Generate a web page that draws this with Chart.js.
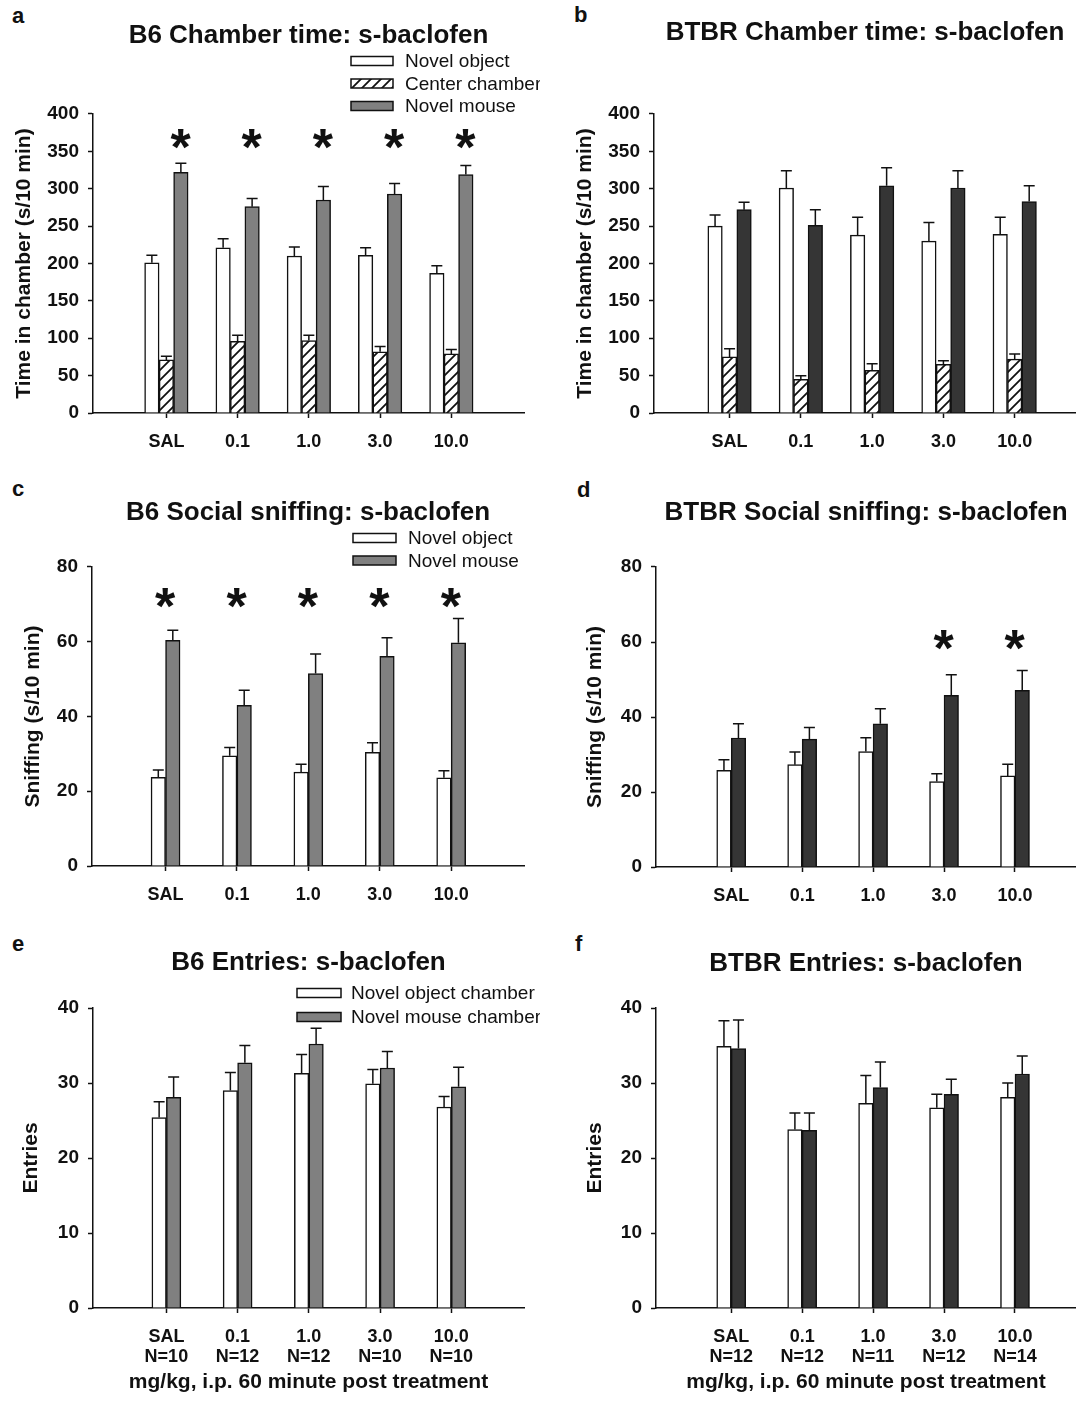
<!DOCTYPE html>
<html>
<head>
<meta charset="utf-8">
<script src="https://cdn.jsdelivr.net/npm/chart.js@4.4.1/dist/chart.umd.min.js"></script>
<style>
  html, body { margin: 0; padding: 0; background: #fff; overflow: hidden; }
  #fig { position: relative; width: 1076px; height: 1402px; }
  .letter { position: absolute; font: bold 22px "Liberation Sans", Arial, sans-serif; line-height: 26px; color: #111; }
</style>
</head>
<body>
<div id="fig">
  <div class="letter" style="left:12px;top:3px">a</div>
  <div class="letter" style="left:574px;top:2px">b</div>
  <div class="letter" style="left:12px;top:476px">c</div>
  <div class="letter" style="left:577px;top:477px">d</div>
  <div class="letter" style="left:12px;top:931px">e</div>
  <div class="letter" style="left:575px;top:931px">f</div>
</div>
<script>
// doses (mg/kg) and group sizes
const doses = ["SAL", "0.1", "1.0", "3.0", "10.0"];
const b6N = ["N=10", "N=12", "N=12", "N=10", "N=10"];
const btbrN = ["N=12", "N=12", "N=11", "N=12", "N=14"];

// a: B6 chamber time
const b6TimeObject = [201, 221, 210, 211, 187];
const b6TimeObjectErr = [10, 12, 12, 10, 10];
const b6TimeCenter = [71, 96, 97, 82, 79];
const b6TimeCenterErr = [5, 8, 7, 7, 6];
const b6TimeMouse = [322, 276, 285, 293, 319];
const b6TimeMouseErr = [12, 11, 18, 14, 12];
const b6TimeSig = [true, true, true, true, true];

// b: BTBR chamber time
const btbrTimeObject = [250, 301, 238, 230, 239];
const btbrTimeObjectErr = [15, 23, 24, 25, 23];
const btbrTimeCenter = [75, 45, 57, 65, 72];
const btbrTimeCenterErr = [11, 5, 9, 5, 7];
const btbrTimeMouse = [272, 251, 304, 301, 283];
const btbrTimeMouseErr = [10, 21, 24, 23, 21];
const btbrTimeSig = [false, false, false, false, false];

// c: B6 social sniffing
const b6SniffObject = [23.7, 29.5, 25.1, 30.4, 23.6];
const b6SniffObjectErr = [2.0, 2.2, 2.1, 2.6, 1.9];
const b6SniffMouse = [60.4, 43.0, 51.5, 56.1, 59.7];
const b6SniffMouseErr = [2.7, 4.0, 5.2, 5.0, 6.5];
const b6SniffSig = [true, true, true, true, true];

// d: BTBR social sniffing
const btbrSniffObject = [25.8, 27.3, 30.8, 22.8, 24.3];
const btbrSniffObjectErr = [2.8, 3.4, 3.7, 2.1, 3.1];
const btbrSniffMouse = [34.4, 34.1, 38.2, 45.8, 47.1];
const btbrSniffMouseErr = [3.8, 3.1, 4.0, 5.5, 5.3];
const btbrSniffSig = [false, false, false, true, true];

// e: B6 entries
const b6EntObject = [25.4, 29.0, 31.3, 29.9, 26.8];
const b6EntObjectErr = [2.1, 2.4, 2.5, 1.9, 1.4];
const b6EntMouse = [28.1, 32.7, 35.2, 32.0, 29.5];
const b6EntMouseErr = [2.7, 2.3, 2.1, 2.2, 2.6];

// f: BTBR entries
const btbrEntObject = [34.9, 23.8, 27.3, 26.7, 28.1];
const btbrEntObjectErr = [3.4, 2.2, 3.7, 1.8, 1.9];
const btbrEntMouse = [34.6, 23.7, 29.4, 28.5, 31.2];
const btbrEntMouseErr = [3.8, 2.3, 3.4, 2.0, 2.4];

const FONT = '"Liberation Sans", Arial, Helvetica, sans-serif';
const INK = "#111";
const WHITE = "#ffffff";
const GRAY = "#808080";
const DARK = "#353535";
const BAR_W = 14.5;
const TITLE_SIZE = 26;
const AXIS_TITLE_SIZE = 21;

// hatch fill for the center chamber bars
function makeHatch() {
  const c = document.createElement("canvas");
  c.width = 10; c.height = 10;
  const g = c.getContext("2d");
  g.fillStyle = "#fff";
  g.fillRect(0, 0, 10, 10);
  g.strokeStyle = INK;
  g.lineWidth = 1.8;
  g.beginPath();
  g.moveTo(-2, 12); g.lineTo(12, -2);
  g.moveTo(-7, 7); g.lineTo(7, -7);
  g.moveTo(3, 17); g.lineTo(17, 3);
  g.stroke();
  return g.createPattern(c, "repeat");
}
const HATCH = makeHatch();

// upper error bars (mean + SEM)
const errorBars = {
  id: "errorBars",
  afterDatasetsDraw(chart) {
    const { ctx } = chart;
    const yScale = chart.scales.y;
    ctx.save();
    ctx.strokeStyle = INK;
    ctx.lineWidth = 1.5;
    chart.data.datasets.forEach((ds, di) => {
      const meta = chart.getDatasetMeta(di);
      meta.data.forEach((bar, i) => {
        const v = ds.data[i].y;
        const top = yScale.getPixelForValue(v + ds.err[i]);
        ctx.beginPath();
        ctx.moveTo(bar.x, bar.y);
        ctx.lineTo(bar.x, top);
        ctx.moveTo(bar.x - 5.5, top);
        ctx.lineTo(bar.x + 5.5, top);
        ctx.stroke();
      });
    });
    ctx.restore();
  }
};

// significance asterisks
const starMarks = {
  id: "starMarks",
  afterDatasetsDraw(chart, args, opts) {
    if (!opts.sig) return;
    const { ctx } = chart;
    const xs = chart.scales.x, ys = chart.scales.y;
    ctx.save();
    ctx.fillStyle = INK;
    ctx.font = "bold 52px " + FONT;
    ctx.textAlign = "left";
    ctx.textBaseline = "alphabetic";
    const m = ctx.measureText("*");
    const w = m.actualBoundingBoxRight + m.actualBoundingBoxLeft;
    const h = m.actualBoundingBoxAscent + m.actualBoundingBoxDescent;
    opts.sig.forEach((on, i) => {
      if (!on) return;
      const cx = xs.getPixelForValue(i) + opts.shift * BAR_W;
      const cy = ys.getPixelForValue(opts.level);
      ctx.fillText("*", cx - w / 2 + m.actualBoundingBoxLeft, cy + h / 2 - m.actualBoundingBoxDescent);
    });
    ctx.restore();
  }
};

// stacked legend with wide boxes, like the original
const boxLegend = {
  id: "boxLegend",
  afterDraw(chart, args, opts) {
    if (!opts.show) return;
    const { ctx } = chart;
    ctx.save();
    ctx.font = "19px " + FONT;
    ctx.textBaseline = "middle";
    ctx.textAlign = "left";
    chart.data.datasets.forEach((ds, i) => {
      const y = opts.y + i * opts.gap;
      ctx.fillStyle = ds.backgroundColor;
      ctx.fillRect(opts.x, y - 4.5, opts.w, 9);
      ctx.strokeStyle = INK;
      ctx.lineWidth = 1.5;
      ctx.strokeRect(opts.x, y - 4.5, opts.w, 9);
      ctx.fillStyle = INK;
      ctx.fillText(ds.label, opts.textX, y + 1);
    });
    ctx.restore();
  }
};

function makePanel(p) {
  const cv = document.createElement("canvas");
  cv.width = p.w;
  cv.height = p.h;
  cv.style.cssText = `position:absolute;left:${p.x}px;top:${p.y}px;`;
  document.getElementById("fig").appendChild(cv);

  const titleLH = TITLE_SIZE * 1.2;
  const titleTop = p.titleY - p.y - titleLH / 2;
  const titleBottom = (p.plotT - p.y) - titleTop - titleLH;
  const yAxisW = p.plotL - p.x;
  const xAxisH = p.y + p.h - p.plotB;
  const axisLH = AXIS_TITLE_SIZE * 1.2;

  const datasets = p.series.map(s => ({
    label: s.label,
    data: s.values.map((v, i) => ({ x: i, y: v })),
    err: s.err,
    backgroundColor: s.fill,
    borderColor: INK,
    borderWidth: 1.5,
    barThickness: BAR_W
  }));

  new Chart(cv, {
    type: "bar",
    data: { datasets },
    options: {
      responsive: false,
      animation: false,
      devicePixelRatio: 1,
      layout: { padding: { left: 0, top: 0, bottom: 0, right: p.x + p.w - p.plotR } },
      plugins: {
        legend: { display: false },
        tooltip: { enabled: false },
        title: {
          display: true,
          text: p.title,
          fullSize: false,
          color: INK,
          font: { family: FONT, size: TITLE_SIZE, weight: "bold", lineHeight: 1.2 },
          padding: { top: titleTop, bottom: titleBottom }
        },
        starMarks: { sig: p.sig, level: p.starLevel, shift: p.starShift },
        boxLegend: p.legend ? {
          show: true,
          x: p.legend.x - p.x, y: p.legend.y - p.y, w: p.legend.w,
          gap: p.legend.gap, textX: p.legend.textX - p.x
        } : { show: false }
      },
      scales: {
        x: {
          type: "linear",
          min: p.xMin,
          max: p.xMax,
          offset: false,
          grid: { offset: false, drawOnChartArea: false, drawTicks: true, tickLength: 5, tickWidth: 1.5, tickColor: INK },
          border: { display: true, color: INK, width: 1.5 },
          ticks: {
            stepSize: 1,
            autoSkip: false,
            maxRotation: 0,
            padding: 14,
            color: INK,
            font: { family: FONT, size: 18, weight: "bold", lineHeight: 1.1 },
            callback: v => p.nLabels ? [doses[v], p.nLabels[v]] : doses[v]
          },
          afterBuildTicks: s => {
            s.ticks = s.ticks.filter(t => Number.isInteger(t.value) && t.value >= 0 && t.value < doses.length);
          },
          afterFit: s => { s.height = xAxisH; },
          title: p.xTitle ? {
            display: true,
            text: p.xTitle,
            color: INK,
            font: { family: FONT, size: AXIS_TITLE_SIZE, weight: "bold", lineHeight: 1.2 },
            padding: { top: 0, bottom: p.xTitleBottom }
          } : { display: false }
        },
        y: {
          min: 0,
          max: p.yMax,
          grid: { drawOnChartArea: false, drawTicks: true, tickLength: 5, tickWidth: 1.5, tickColor: INK },
          border: { display: true, color: INK, width: 1.5 },
          ticks: {
            stepSize: p.yStep,
            padding: 9,
            color: INK,
            font: { family: FONT, size: 19, weight: "bold" }
          },
          afterFit: s => { s.width = yAxisW; },
          title: {
            display: true,
            text: p.yTitle,
            color: INK,
            font: { family: FONT, size: AXIS_TITLE_SIZE, weight: "bold", lineHeight: 1.2 },
            padding: { top: p.yTitleX - p.x - axisLH / 2, bottom: 0 }
          }
        }
      }
    },
    plugins: [errorBars, starMarks, boxLegend]
  });
}

const LEFT = { x: 0, w: 540, plotL: 93, plotR: 524, xMin: -1.03, xMax: 5.02 };
const RIGHT = { x: 540, w: 536, plotL: 654, plotR: 1076, xMin: -1.06, xMax: 4.86 };

makePanel({
  ...LEFT, y: 0, h: 470, plotT: 114, plotB: 413,
  title: "B6 Chamber time: s-baclofen", titleY: 36,
  yTitle: "Time in chamber (s/10 min)", yTitleX: 24, yMax: 400, yStep: 50,
  series: [
    { label: "Novel object", values: b6TimeObject, err: b6TimeObjectErr, fill: WHITE },
    { label: "Center chamber", values: b6TimeCenter, err: b6TimeCenterErr, fill: HATCH },
    { label: "Novel mouse", values: b6TimeMouse, err: b6TimeMouseErr, fill: GRAY }
  ],
  sig: b6TimeSig, starLevel: 366, starShift: 1,
  legend: { x: 351, y: 61, w: 42, gap: 22.5, textX: 405 }
});

makePanel({
  ...RIGHT, y: 0, h: 470, plotT: 114, plotB: 413,
  title: "BTBR Chamber time: s-baclofen", titleY: 33,
  yTitle: "Time in chamber (s/10 min)", yTitleX: 585, yMax: 400, yStep: 50,
  series: [
    { label: "Novel object", values: btbrTimeObject, err: btbrTimeObjectErr, fill: WHITE },
    { label: "Center chamber", values: btbrTimeCenter, err: btbrTimeCenterErr, fill: HATCH },
    { label: "Novel mouse", values: btbrTimeMouse, err: btbrTimeMouseErr, fill: DARK }
  ],
  sig: btbrTimeSig, starLevel: 366, starShift: 0,
  legend: null
});

makePanel({
  ...LEFT, y: 470, h: 450, plotT: 567, plotB: 866, plotL: 92,
  title: "B6 Social sniffing: s-baclofen", titleY: 513,
  yTitle: "Sniffing (s/10 min)", yTitleX: 33, yMax: 80, yStep: 20,
  series: [
    { label: "Novel object", values: b6SniffObject, err: b6SniffObjectErr, fill: WHITE },
    { label: "Novel mouse", values: b6SniffMouse, err: b6SniffMouseErr, fill: GRAY }
  ],
  sig: b6SniffSig, starLevel: 71.8, starShift: 0,
  legend: { x: 353, y: 538, w: 43, gap: 22.5, textX: 408 }
});

makePanel({
  ...RIGHT, y: 470, h: 450, plotT: 567, plotB: 867, plotL: 656,
  title: "BTBR Social sniffing: s-baclofen", titleY: 513,
  yTitle: "Sniffing (s/10 min)", yTitleX: 595, yMax: 80, yStep: 20,
  series: [
    { label: "Novel object", values: btbrSniffObject, err: btbrSniffObjectErr, fill: WHITE },
    { label: "Novel mouse", values: btbrSniffMouse, err: btbrSniffMouseErr, fill: DARK }
  ],
  sig: btbrSniffSig, starLevel: 60.5, starShift: 0,
  legend: null
});

makePanel({
  ...LEFT, y: 920, h: 482, plotT: 1008, plotB: 1308,
  title: "B6 Entries: s-baclofen", titleY: 963,
  yTitle: "Entries", yTitleX: 31, yMax: 40, yStep: 10,
  nLabels: b6N, xTitle: "mg/kg, i.p. 60 minute post treatment", xTitleBottom: 7,
  series: [
    { label: "Novel object chamber", values: b6EntObject, err: b6EntObjectErr, fill: WHITE },
    { label: "Novel mouse chamber", values: b6EntMouse, err: b6EntMouseErr, fill: GRAY }
  ],
  sig: null, starLevel: 0, starShift: 0,
  legend: { x: 297, y: 993, w: 44, gap: 24, textX: 351 }
});

makePanel({
  ...RIGHT, y: 920, h: 482, plotT: 1008, plotB: 1308, plotL: 656,
  title: "BTBR Entries: s-baclofen", titleY: 964,
  yTitle: "Entries", yTitleX: 595, yMax: 40, yStep: 10,
  nLabels: btbrN, xTitle: "mg/kg, i.p. 60 minute post treatment", xTitleBottom: 7,
  series: [
    { label: "Novel object chamber", values: btbrEntObject, err: btbrEntObjectErr, fill: WHITE },
    { label: "Novel mouse chamber", values: btbrEntMouse, err: btbrEntMouseErr, fill: DARK }
  ],
  sig: null, starLevel: 0, starShift: 0,
  legend: null
});
</script>
</body>
</html>
